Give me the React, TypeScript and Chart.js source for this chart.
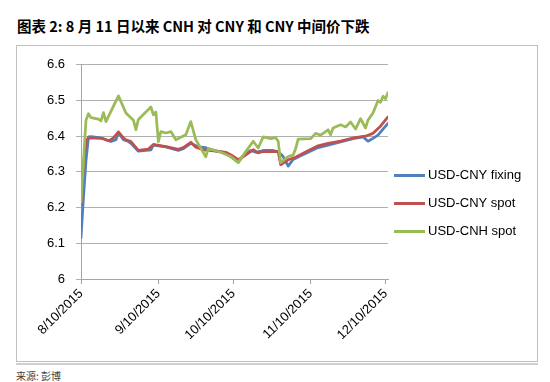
import React, { useEffect, useRef } from "react";
import { Chart, registerables } from "chart.js";

Chart.register(...registerables);

// Days counted from 8/10/2015
const tickDays = [0, 31, 61, 92, 122];
const tickLabels = ["8/10/2015", "9/10/2015", "10/10/2015", "11/10/2015", "12/10/2015"];
const yTicks = [6, 6.1, 6.2, 6.3, 6.4, 6.5, 6.6];

const seriesNames = ["USD-CNY fixing", "USD-CNY spot", "USD-CNH spot"];
const seriesColors = ["#4F81BD", "#C0504D", "#9BBB59"];

const fixingDays = [0, 1, 2, 3, 4, 8, 10, 12, 14, 15, 17, 19, 20, 23, 26, 28, 29, 34, 39, 41, 44, 47, 50, 52, 57, 60, 63, 65, 68, 70, 73, 77, 79, 81, 83, 85, 88, 91, 95, 99, 104, 109, 113, 115, 117, 119, 121, 123];
const fixingValues = [6.116, 6.23, 6.331, 6.398, 6.399, 6.395, 6.39, 6.385, 6.39, 6.41, 6.39, 6.385, 6.38, 6.358, 6.36, 6.362, 6.375, 6.37, 6.36, 6.365, 6.38, 6.37, 6.368, 6.36, 6.355, 6.343, 6.327, 6.345, 6.36, 6.355, 6.36, 6.36, 6.357, 6.343, 6.316, 6.335, 6.345, 6.355, 6.368, 6.375, 6.384, 6.393, 6.398, 6.386, 6.394, 6.403, 6.42, 6.436];

const cnySpotDays = [0, 1, 2, 3, 8, 9, 11, 13, 15, 17, 18, 20, 23, 27, 29, 34, 39, 41, 44, 46, 49, 54, 58, 60, 63, 65, 69, 71, 73, 78, 79, 80, 83, 86, 90, 95, 99, 104, 109, 114, 117, 120, 123];
const cnySpotValues = [6.21, 6.32, 6.387, 6.395, 6.394, 6.393, 6.387, 6.395, 6.412, 6.395, 6.39, 6.385, 6.36, 6.364, 6.377, 6.371, 6.363, 6.368, 6.383, 6.369, 6.362, 6.359, 6.355, 6.348, 6.334, 6.343, 6.362, 6.353, 6.357, 6.357, 6.357, 6.32, 6.334, 6.341, 6.356, 6.373, 6.38, 6.386, 6.395, 6.4, 6.408, 6.428, 6.454];

const cnhSpotDays = [0, 1, 2, 3, 4, 7, 8, 9, 10, 15, 18, 21, 22, 23, 28, 29, 30, 31, 32, 34, 36, 38, 42, 44, 46, 50, 51, 56, 60, 63, 65, 69, 71, 73, 76, 78, 79, 80, 83, 85, 86, 87, 92, 94, 96, 99, 100, 101, 104, 106, 108, 110, 112, 114, 115, 117, 119, 120, 121, 122, 123];
const cnhSpotValues = [6.215, 6.33, 6.445, 6.463, 6.452, 6.448, 6.443, 6.466, 6.441, 6.513, 6.465, 6.445, 6.418, 6.447, 6.482, 6.46, 6.468, 6.385, 6.413, 6.409, 6.413, 6.39, 6.404, 6.441, 6.39, 6.342, 6.366, 6.355, 6.343, 6.326, 6.347, 6.386, 6.367, 6.398, 6.393, 6.396, 6.386, 6.326, 6.343, 6.347, 6.365, 6.392, 6.393, 6.408, 6.403, 6.418, 6.404, 6.423, 6.432, 6.426, 6.44, 6.42, 6.449, 6.423, 6.445, 6.465, 6.5, 6.495, 6.512, 6.505, 6.522];

const seriesDays = [fixingDays, cnySpotDays, cnhSpotDays];
const seriesValues = [fixingValues, cnySpotValues, cnhSpotValues];

const FONT = "'Liberation Sans', Arial, sans-serif";

const legendPlugin = {
  id: "sideLegend",
  afterDraw(chart: any) {
    const ctx = chart.ctx;
    const area = chart.chartArea;
    const n = chart.data.datasets.length;
    const rowH = 28;
    const cy = chart.height / 2;
    const x0 = area.right + 6;
    ctx.save();
    chart.data.datasets.forEach((ds: any, i: number) => {
      const y = cy + (i - (n - 1) / 2) * rowH;
      ctx.strokeStyle = ds.borderColor;
      ctx.lineWidth = 3;
      ctx.lineCap = "butt";
      ctx.beginPath();
      ctx.moveTo(x0, y);
      ctx.lineTo(x0 + 31, y);
      ctx.stroke();
      ctx.fillStyle = "#000";
      ctx.font = `13px ${FONT}`;
      ctx.textBaseline = "middle";
      ctx.textAlign = "left";
      ctx.fillText(ds.label, x0 + 34, y);
    });
    ctx.restore();
  },
};

export default function App() {
  const canvasRef = useRef<HTMLCanvasElement | null>(null);

  useEffect(() => {
    if (!canvasRef.current) return;
    const datasets = seriesNames.map((name, i) => ({
      label: name,
      data: seriesDays[i].map((d, j) => ({ x: d, y: seriesValues[i][j] })),
      borderColor: seriesColors[i],
      backgroundColor: seriesColors[i],
      borderWidth: 2.75,
      pointRadius: 0,
      tension: 0,
      borderJoinStyle: "round" as const,
      borderCapStyle: "round" as const,
      order: 3 - i,
    }));
    const chart = new Chart(canvasRef.current, {
      type: "line",
      data: { datasets },
      options: {
        animation: false,
        responsive: false,
        maintainAspectRatio: false,
        layout: { padding: { left: 0, top: 16, right: 149, bottom: 0 } },
        plugins: { legend: { display: false }, tooltip: { enabled: false } },
        scales: {
          x: {
            type: "linear",
            min: 0,
            max: 123,
            afterBuildTicks: (s: any) => {
              s.ticks = tickDays.map((v) => ({ value: v }));
            },
            afterFit: (s: any) => {
              s.height = 82;
            },
            ticks: {
              autoSkip: false,
              minRotation: 45,
              maxRotation: 45,
              padding: 2,
              color: "#000",
              font: { family: FONT, size: 13 },
              callback: (v: any) => {
                const k = tickDays.indexOf(Number(v));
                return k >= 0 ? tickLabels[k] : "";
              },
            },
            grid: { drawOnChartArea: false, drawTicks: true, tickLength: 5, color: "#a6a6a6" },
            border: { color: "#a6a6a6" },
          },
          y: {
            min: yTicks[0],
            max: yTicks[yTicks.length - 1],
            afterFit: (s: any) => {
              s.width = 64;
            },
            ticks: {
              stepSize: 0.1,
              padding: 11,
              color: "#000",
              font: { family: FONT, size: 13 },
              callback: (v: any) => parseFloat(Number(v).toFixed(1)).toString(),
            },
            grid: { color: "#b0b0b0", tickLength: 5 },
            border: { color: "#a6a6a6" },
          },
        },
      },
      plugins: [legendPlugin],
    });
    return () => chart.destroy();
  }, []);

  return (
    <div style={{ position: "absolute", left: 0, top: 0, width: 550, height: 382, background: "#fff" }}>
      <div
        style={{
          position: "absolute",
          left: 17,
          top: 15,
          lineHeight: "21px",
          fontSize: 14.5,
          fontWeight: "bold",
          fontFamily: "'Noto Sans CJK SC', sans-serif",
          color: "#000",
          whiteSpace: "nowrap",
        }}
      >
        图表 2: 8 月 11 日以来 CNH 对 CNY 和 CNY 中间价下跌
      </div>
      <div
        style={{
          position: "absolute",
          left: 16,
          top: 45,
          width: 520,
          height: 315,
          border: "1px solid #bfbfbf",
        }}
      >
        <canvas ref={canvasRef} width={520} height={315} style={{ display: "block", width: 520, height: 315 }} />
      </div>
      <div style={{ position: "absolute", left: 16, top: 363, width: 522, height: 2, background: "#d0d0d0" }} />
      <div
        style={{
          position: "absolute",
          left: 16,
          top: 369,
          lineHeight: "14px",
          fontSize: 10,
          fontFamily: "'Noto Sans CJK SC', sans-serif",
          color: "#404040",
          whiteSpace: "nowrap",
        }}
      >
        来源: 彭博
      </div>
    </div>
  );
}
